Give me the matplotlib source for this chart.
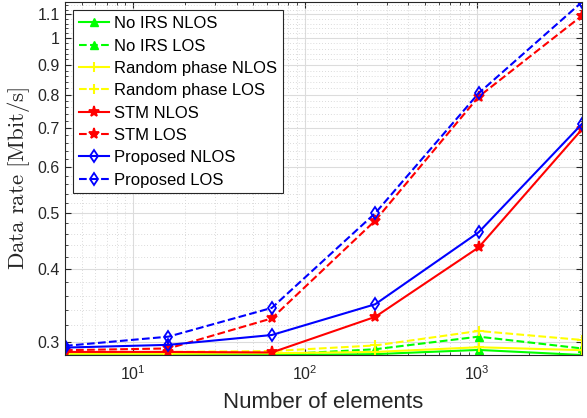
import numpy as np
import matplotlib
matplotlib.use("Agg")
import matplotlib.pyplot as plt
from matplotlib.ticker import FixedLocator, FixedFormatter, LogLocator, NullFormatter

## Data
elements = [4, 16, 64, 256, 1024, 4096]
noirs_nlos = [0.2845, 0.2845, 0.2845, 0.2855, 0.2903, 0.2845]
noirs_los = [0.2845, 0.2845, 0.2848, 0.2911, 0.3060, 0.2920]
random_nlos = [0.2860, 0.2860, 0.2865, 0.2880, 0.2934, 0.2900]
random_los = [0.2875, 0.2880, 0.2890, 0.2955, 0.3130, 0.3020]
stm_nlos = [0.2880, 0.2880, 0.2874, 0.3310, 0.4360, 0.6970]
stm_los = [0.2900, 0.2920, 0.3290, 0.4850, 0.7930, 1.0940]
prop_nlos = [0.2930, 0.2962, 0.3080, 0.3480, 0.4630, 0.7120]
prop_los = [0.2950, 0.3060, 0.3430, 0.4995, 0.8040, 1.1550]

yticks = [0.3, 0.4, 0.5, 0.6, 0.7, 0.8, 0.9, 1.0, 1.1]
yticklabels = ["0.3", "0.4", "0.5", "0.6", "0.7", "0.8", "0.9", "1", "1.1"]

plt.rcParams['font.family'] = ['Liberation Sans', 'DejaVu Sans']
txt = "#262626"

fig = plt.figure(figsize=(5.87, 4.18), dpi=100)
ax = fig.add_axes([0.1107, 0.1507, 0.8808, 0.8445])

lw = 1.5
ax.plot(elements, noirs_nlos, "-^", color=(0, 1, 0), lw=lw, ms=5.5, label="No IRS NLOS")
ax.plot(elements, noirs_los, "--^", color=(0, 1, 0), lw=lw, ms=5.5, label="No IRS LOS")
ax.plot(elements, random_nlos, "-+", color=(1, 1, 0), lw=lw, ms=6.5, mew=1.5, label="Random phase NLOS")
ax.plot(elements, random_los, "--+", color=(1, 1, 0), lw=lw, ms=6.5, mew=1.5, label="Random phase LOS")
ax.plot(elements, stm_nlos, "-*", color=(1, 0, 0), lw=lw, ms=8, mew=1.3, label="STM NLOS")
ax.plot(elements, stm_los, "--*", color=(1, 0, 0), lw=lw, ms=8, mew=1.3, label="STM LOS")
ax.plot(elements, prop_nlos, "-d", color=(0, 0, 1), lw=lw, ms=6, mfc="none", mew=1.3, label="Proposed NLOS")
ax.plot(elements, prop_los, "--d", color=(0, 0, 1), lw=lw, ms=6, mfc="none", mew=1.3, label="Proposed LOS")

ax.set_xscale("log")
ax.set_yscale("log")
ax.set_xlim(4, 4096)
ax.set_ylim(0.2845, 1.155)

ax.yaxis.set_major_locator(FixedLocator(yticks))
ax.yaxis.set_major_formatter(FixedFormatter(yticklabels))
yminor = [v for v in np.round(np.arange(0.28, 1.17, 0.02), 2) if v not in yticks]
ax.yaxis.set_minor_locator(FixedLocator(yminor))
ax.yaxis.set_minor_formatter(NullFormatter())
ax.xaxis.set_major_locator(FixedLocator([10, 100, 1000]))
ax.xaxis.set_minor_locator(LogLocator(base=10, subs=np.arange(2, 10)))
ax.xaxis.set_minor_formatter(NullFormatter())

ax.grid(True, which="major", color="#dcdcdc", lw=0.8, ls="-")
ax.grid(True, which="minor", color="#cfcfcf", lw=0.6, ls=(0, (1, 2.5)))
ax.set_axisbelow(True)

ax.tick_params(which="both", direction="in", top=True, right=True, colors=txt, labelsize=11.5)
ax.tick_params(which="major", length=4)
ax.tick_params(which="minor", length=2.5)
ax.tick_params(axis="x", which="major", pad=7)
for s in ax.spines.values():
    s.set_color(txt)
    s.set_linewidth(0.8)

ax.set_xlabel("Number of elements", fontsize=16, color=txt, labelpad=6)
ax.set_ylabel(r"$\mathrm{Data\ rate\ [Mbit/s]}$", fontsize=16.5, color=txt,
              math_fontfamily="cm", labelpad=4)

leg = ax.legend(loc="upper left", fontsize=12, frameon=True, fancybox=False, framealpha=1,
                edgecolor=txt, handlelength=1.8, labelspacing=0.44, borderpad=0.35, handletextpad=0.3)
leg.get_frame().set_linewidth(0.8)
for t in leg.get_texts():
    t.set_color("black")

fig.savefig("out.png", dpi=100)
